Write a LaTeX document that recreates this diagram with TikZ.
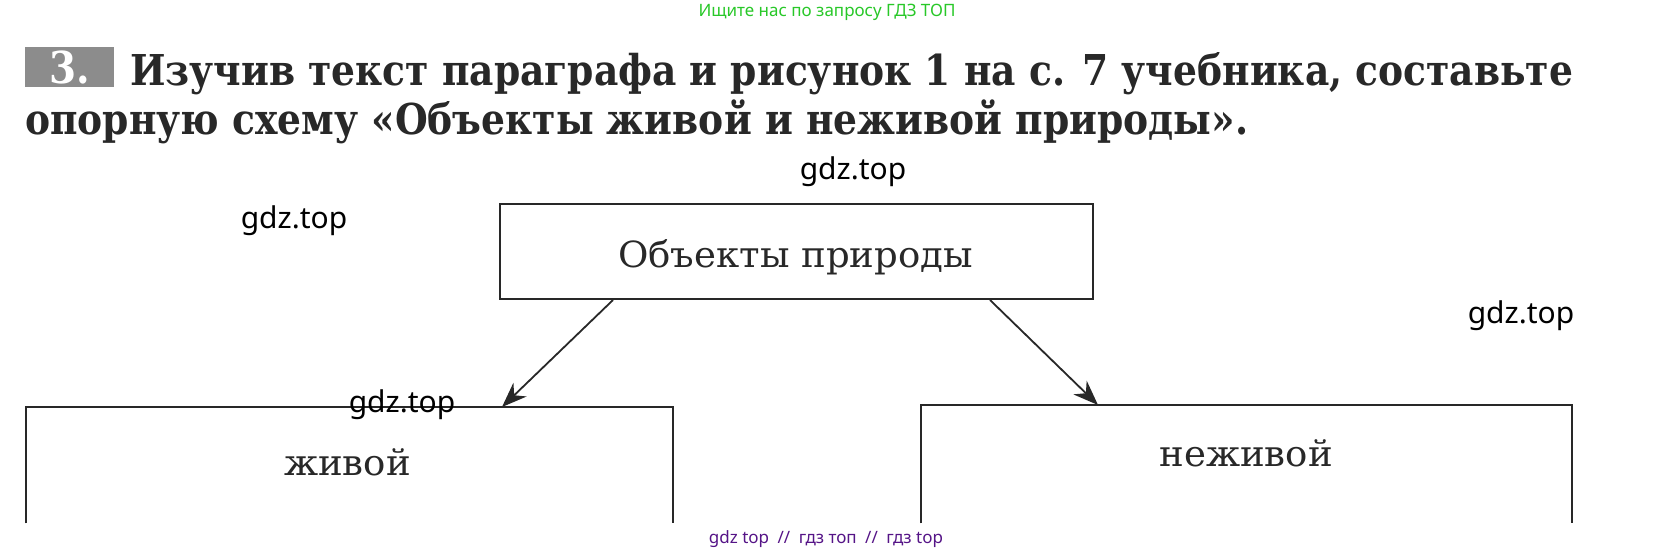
\documentclass[tikz,border=0pt]{standalone}
\usepackage{fontspec}
\setmainfont{DejaVu Serif}
\newfontfamily\headfont[FakeStretch=0.885]{DejaVu Serif}
\newfontfamily\boxfont[FakeStretch=1.03]{DejaVu Serif}
\newfontfamily\wmfont{Noto Sans}
\usetikzlibrary{arrows.meta}
\definecolor{ink}{RGB}{40,40,40}
\definecolor{wmgreen}{RGB}{40,200,40}
\definecolor{wmpurple}{RGB}{85,20,135}
\begin{document}
\begin{tikzpicture}[x=1pt,y=-1pt,
  frame/.style={draw=ink, line width=2pt},
  arr/.style={draw=ink, line width=1.8pt, -{Stealth[length=25pt,width=19pt]}},
  head/.style={anchor=base west, inner sep=0pt, font=\headfont\bfseries\fontsize{42.5}{50}\selectfont, text=ink},
  lbl/.style={anchor=base, inner sep=0pt, font=\boxfont\fontsize{36}{40}\selectfont, text=ink},
  wm/.style={anchor=base, inner sep=0pt, font=\wmfont\fontsize{30}{34}\selectfont, text=black},
  badge/.style={fill=black!45, minimum width=89pt, minimum height=40pt, inner sep=0pt, text=white, font=\headfont\bfseries\fontsize{44}{48}\selectfont}]
\useasboundingbox (0,0) rectangle (1654,551);
\fill[white] (0,0) rectangle (1654,551);
% top watermark
\node[anchor=base, inner sep=0pt, font=\wmfont\fontsize{17}{20}\selectfont, text=wmgreen] (topwm) at (827,17) {Ищите нас по запросу ГДЗ ТОП};
% task heading
\node[badge] (num) at (69.5,67) {3.};
\node[head] (l1) at (130,85) {Изучив текст параграфа и рисунок 1 на с. 7 учебника, составьте};
\node[head] (l2) at (25,134) {опорную схему «Объекты живой и неживой природы».};
% boxes
\node[frame, anchor=north west, minimum width=593pt, minimum height=95pt, inner sep=0pt] (root) at (499,203) {};
\node[lbl] (rootlbl) at (795.5,267) {Объекты природы};
\node[anchor=north west, minimum width=647pt, minimum height=116pt, inner sep=0pt] (live) at (26,407) {};
\node[anchor=north west, minimum width=651pt, minimum height=118pt, inner sep=0pt] (nonlive) at (921,405) {};
\draw[frame] (live.south west) |- (live.north east) -- (live.south east);
\draw[frame] (nonlive.south west) |- (nonlive.north east) -- (nonlive.south east);
\node[lbl] (livelbl) at (347.5,475) {живой};
\node[lbl] (nonlivelbl) at (1246,466) {неживой};
% arrows
\draw[arr] ([xshift=114pt]root.south west) -- ([xshift=476pt]live.north west);
\draw[arr] ([xshift=-104pt]root.south east) -- ([xshift=177pt]nonlive.north west);
% watermarks
\node[wm] (wm1) at (294,228) {gdz.top};
\node[wm] (wm2) at (853,179) {gdz.top};
\node[wm] (wm3) at (1521,323) {gdz.top};
\node[wm] (wm4) at (402,412) {gdz.top};
\node[anchor=base, inner sep=0pt, font=\wmfont\fontsize{17}{20}\selectfont, text=wmpurple] (foot) at (826,543) {gdz top\hspace{0.5em}//\hspace{0.5em}гдз топ\hspace{0.5em}//\hspace{0.5em}гдз top};
\end{tikzpicture}
\end{document}
